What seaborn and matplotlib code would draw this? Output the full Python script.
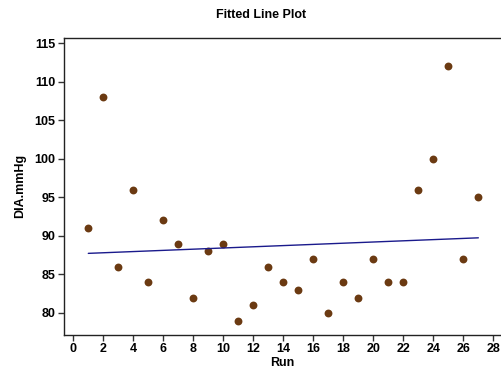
import matplotlib
matplotlib.use("Agg")
import matplotlib.pyplot as plt
import seaborn as sns
import numpy as np
import pandas as pd

run = list(range(1, 28))
dia = [91, 108, 86, 96, 84, 92, 89, 82, 88, 89, 79, 81, 86, 84, 83, 87, 80, 84, 82, 87, 84, 84, 96, 100, 112, 87, 95]
xticks = list(range(0, 29, 2))
yticks = [80, 85, 90, 95, 100, 105, 110, 115]

sns.set_style("white")
plt.rcParams['font.family'] = ['Liberation Sans', 'DejaVu Sans']
plt.rcParams['text.color'] = 'black'
plt.rcParams['axes.labelcolor'] = 'black'
plt.rcParams['xtick.color'] = 'black'
plt.rcParams['ytick.color'] = 'black'

df = pd.DataFrame({"Run": run, "DIA.mmHg": dia})

fig = plt.figure(figsize=(5.01, 3.76), dpi=100)
ax = fig.add_axes([64/501, 41/376, (501-64)/501, (335-37.5)/376])

sns.regplot(data=df, x="Run", y="DIA.mmHg", ci=None, ax=ax,
            scatter_kws=dict(color="#6B3A12", s=32, linewidths=0, alpha=1),
            line_kws=dict(color="#1a1a8c", lw=1.0))

ax.set_xlim(-0.62, 28.51)
ax.set_ylim(77.14, 115.74)
ax.set_xticks(xticks)
ax.set_yticks(yticks)
ax.tick_params(axis='both', which='both', direction='out', length=4, width=1,
               color='#333333', labelcolor='black', labelsize=9, pad=2,
               bottom=True, left=True)
for lab in ax.get_xticklabels() + ax.get_yticklabels():
    lab.set_fontweight('bold')
ax.set_xlabel("Run", fontsize=9, fontweight='bold', labelpad=1, color='black')
ax.set_ylabel("DIA.mmHg", fontsize=9, fontweight='bold', labelpad=6, color='black')
for side in ['left', 'bottom', 'top']:
    ax.spines[side].set_visible(True)
    ax.spines[side].set_color('#222222')
    ax.spines[side].set_linewidth(1.0)
ax.spines['right'].set_visible(False)

fig.text(261/501, 1 - 15/376, "Fitted Line Plot", ha='center', va='center',
         fontsize=9, fontweight='bold', color='black')

fig.savefig("out.png", dpi=100)
